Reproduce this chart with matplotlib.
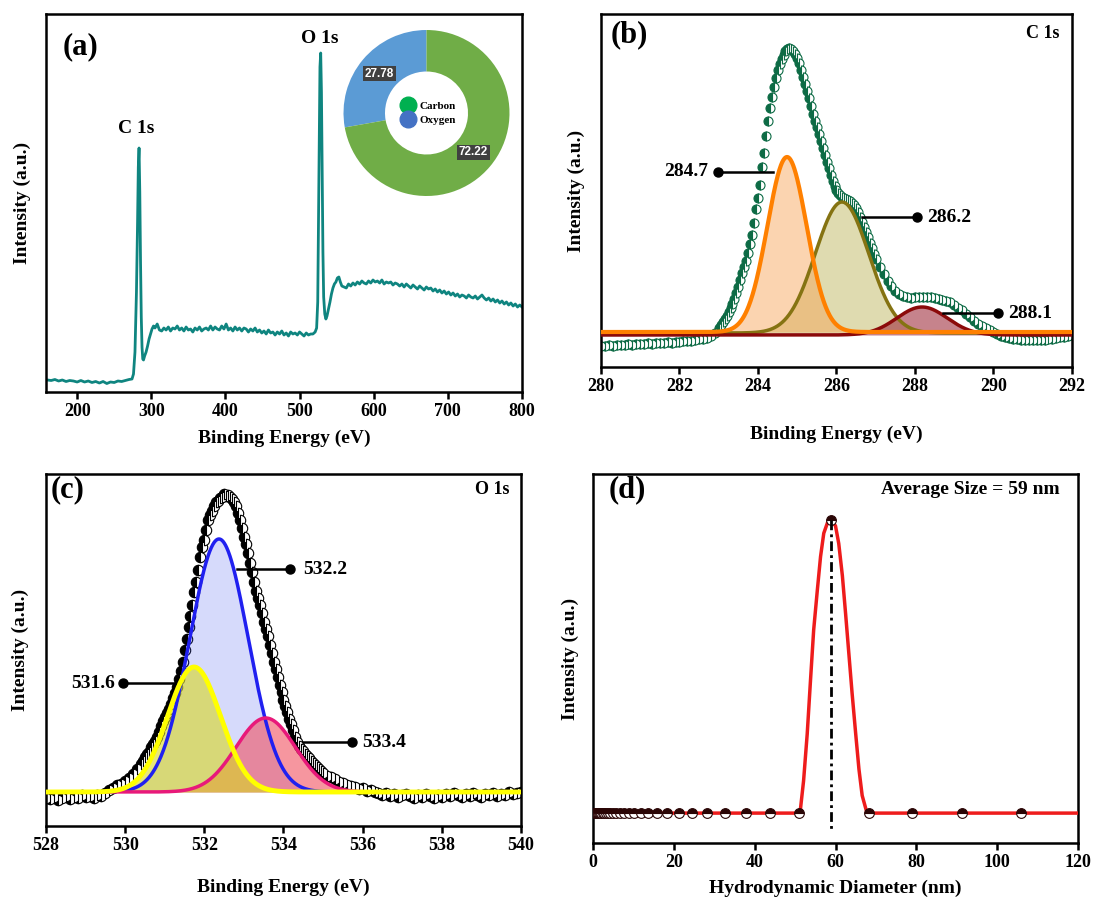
import numpy as np
import matplotlib
matplotlib.use("Agg")
import matplotlib.pyplot as plt
from matplotlib.lines import Line2D

plt.rcParams['font.family'] = ['Liberation Serif', 'DejaVu Serif']
plt.rcParams['font.weight'] = 'bold'
plt.rcParams['axes.labelweight'] = 'bold'

# ---------------- (a) XPS survey ----------------
survey_x = [160, 165, 170, 175, 180, 185, 190, 195, 200, 205, 210, 215, 220, 225, 230, 235, 240, 245,
            250, 255, 260, 265, 270, 274, 276, 278, 280, 281.5, 282.5, 283.5, 284.5, 285.5, 286.5,
            287.5, 288.5, 289.5, 291, 293, 295, 297, 299, 301, 303, 305, 308, 311, 314, 317, 320,
            323, 326, 329, 332, 335, 338, 341, 344, 347, 350, 353, 356, 359, 362, 365, 368, 371,
            374, 377, 380, 383, 386, 389, 392, 395, 398, 401, 404, 407, 410, 413, 416, 419, 422,
            425, 428, 431, 434, 437, 440, 443, 446, 449, 452, 455, 458, 461, 464, 467, 470, 473,
            476, 479, 482, 485, 488, 491, 494, 497, 500, 503, 506, 509, 512, 515, 518, 521, 523,
            524.5, 525.5, 526.5, 527.5, 528.5, 529.5, 530.5, 531.5, 532.5, 534, 535.5, 537, 539,
            541, 543, 545, 547, 549, 551, 553, 555, 557, 560, 563, 566, 569, 572, 575, 578, 581,
            584, 587, 590, 593, 596, 599, 602, 605, 608, 611, 614, 617, 620, 623, 626, 629, 632,
            635, 638, 641, 644, 647, 650, 653, 656, 659, 662, 665, 668, 671, 674, 677, 680, 683,
            686, 689, 692, 695, 698, 701, 704, 707, 710, 713, 716, 719, 722, 725, 728, 731, 734,
            737, 740, 743, 746, 749, 752, 755, 758, 761, 764, 767, 770, 773, 776, 779, 782, 785,
            788, 791, 794, 797, 800]
survey_y = [12, 11.5, 12.5, 11, 12, 10.5, 11.5, 11, 10, 11.5, 10, 11, 9.5, 10.5, 9, 10.5, 8.5, 10,
            9.5, 11, 10.5, 11.5, 12.5, 13, 18, 40, 100, 170, 225, 244, 200, 130, 75,
            45, 33, 32, 36, 40, 46, 53, 58, 63, 66, 64, 68, 62, 61, 64, 62,
            65, 61, 64, 63, 66, 62, 64, 61, 65, 62, 63, 60, 64, 62, 65, 61, 63,
            64, 62, 66, 62, 65, 63, 62, 66, 63, 68, 62, 64, 61, 65, 62, 64, 61,
            64, 63, 60, 63, 61, 64, 60, 62, 59, 61, 58, 62, 59, 60, 57, 60, 58,
            61, 57, 59, 56, 60, 58, 59, 57, 60, 58, 56, 59, 57, 58, 58, 60, 64,
            90, 170, 260, 325, 339, 300, 220, 140, 95, 78, 73, 76, 83,
            90, 98, 104, 108, 110, 114, 115, 110, 106, 105, 104, 108, 106, 109, 107, 110, 108,
            111, 109, 108, 111, 109, 112, 110, 111, 109, 112, 108, 110, 109, 110, 107, 109, 108,
            106, 108, 105, 108, 106, 104, 107, 105, 103, 106, 104, 102, 105, 103, 104, 101, 103,
            100, 102, 99, 101, 98, 100, 97, 99, 96, 98, 95, 97, 96, 94, 97, 95, 94,
            96, 93, 95, 97, 94, 92, 94, 91, 93, 90, 92, 89, 91, 88, 90, 87, 89,
            86, 88, 85, 87, 85]
pie_labels = ['Oxygen', 'Carbon']
pie_values = [27.78, 72.22]

# ---------------- (b) C 1s ----------------
c1s_x = [280.0, 280.1, 280.2, 280.3, 280.4, 280.5, 280.6, 280.7, 280.8, 280.9, 281.0, 281.1, 281.2,
         281.3, 281.4, 281.5, 281.6, 281.7, 281.8, 281.9, 282.0, 282.1, 282.2, 282.3, 282.4, 282.5,
         282.6, 282.7, 282.8, 282.9, 283.0, 283.05, 283.1, 283.15, 283.2, 283.25, 283.3, 283.35,
         283.4, 283.45, 283.5, 283.55, 283.6, 283.65, 283.7, 283.75, 283.8, 283.85, 283.9, 283.95,
         284.0, 284.05, 284.1, 284.15, 284.2, 284.25, 284.3, 284.35, 284.4, 284.45, 284.5, 284.55,
         284.6, 284.65, 284.7, 284.75, 284.8, 284.85, 284.9, 284.95, 285.0, 285.05, 285.1, 285.15,
         285.2, 285.25, 285.3, 285.35, 285.4, 285.45, 285.5, 285.55, 285.6, 285.65, 285.7, 285.75,
         285.8, 285.85, 285.9, 285.95, 286.0, 286.05, 286.1, 286.15, 286.2, 286.25, 286.3, 286.35,
         286.4, 286.45, 286.5, 286.55, 286.6, 286.65, 286.7, 286.75, 286.8, 286.85, 286.9, 286.95,
         287.0, 287.1, 287.2, 287.3, 287.4, 287.5, 287.6, 287.7, 287.8, 287.9, 288.0, 288.1, 288.2,
         288.3, 288.4, 288.5, 288.6, 288.7, 288.8, 288.9, 289.0, 289.1, 289.2, 289.3, 289.4, 289.5,
         289.6, 289.7, 289.8, 289.9, 290.0, 290.1, 290.2, 290.3, 290.4, 290.5, 290.6, 290.7, 290.8,
         290.9, 291.0, 291.1, 291.2, 291.3, 291.4, 291.5, 291.6, 291.7, 291.8, 291.9, 292.0]
c1s_y = [-13, -13, -12.5, -13, -12, -12, -12.5, -11.5, -12, -11, -11, -11.5, -10.5,
         -11, -10, -10, -10.5, -9.5, -10, -9, -9, -8.5, -8.5, -8, -7, -6.5,
         -6, -5, -3, 0, 5, 8, 11, 14, 17, 21, 25, 29,
         34, 40, 46, 53, 60, 66, 72, 80, 89, 98, 110, 124,
         135, 148, 166, 180, 197, 212, 225, 236, 246, 255, 263, 269,
         274, 278, 282, 284, 285, 284, 282, 279, 275, 270, 263, 256,
         249, 242, 235, 227, 219, 212, 206, 199, 192, 185, 178, 171,
         165, 158, 152, 147, 143, 140, 138, 136, 135, 134, 133, 132,
         130, 128, 125, 121, 116, 111, 106, 101, 96, 90, 85, 79,
         74, 66, 59, 52, 47, 42, 39, 37, 36, 35, 35.5, 36, 36,
         35.5, 35.5, 35, 34, 33, 32, 30.5, 28, 25, 23, 19, 15.5, 12,
         9, 6.5, 4.5, 3, 1, -1, -3, -4, -5, -6, -6.5, -7, -7,
         -7.5, -7, -7.5, -7, -7, -6.5, -6, -5.5, -4.5, -4, -3, -2]
c1s_labels = ['284.7', '286.2', '288.1']
c1s_center = [284.74, 286.14, 288.18]
c1s_height = [175, 131, 28]
c1s_sigma = [0.50, 0.68, 0.64]
c1s_base = [1, 0, -2]

# ---------------- (c) O 1s ----------------
o1s_x = [528.0, 528.1, 528.2, 528.3, 528.4, 528.5, 528.6, 528.7, 528.8, 528.9, 529.0, 529.1, 529.2,
         529.3, 529.4, 529.5, 529.6, 529.7, 529.8, 529.9, 530.0, 530.1, 530.2, 530.3, 530.4, 530.45,
         530.5, 530.55, 530.6, 530.65, 530.7, 530.75, 530.8, 530.85, 530.9, 530.95, 531.0, 531.05,
         531.1, 531.15, 531.2, 531.25, 531.3, 531.35, 531.4, 531.45, 531.5, 531.55, 531.6, 531.65,
         531.7, 531.75, 531.8, 531.85, 531.9, 531.95, 532.0, 532.05, 532.1, 532.15, 532.2, 532.25,
         532.3, 532.35, 532.4, 532.45, 532.5, 532.55, 532.6, 532.65, 532.7, 532.75, 532.8, 532.85,
         532.9, 532.95, 533.0, 533.05, 533.1, 533.15, 533.2, 533.25, 533.3, 533.35, 533.4, 533.45,
         533.5, 533.55, 533.6, 533.65, 533.7, 533.75, 533.8, 533.85, 533.9, 533.95, 534.0, 534.05,
         534.1, 534.15, 534.2, 534.25, 534.3, 534.35, 534.4, 534.45, 534.5, 534.55, 534.6, 534.65,
         534.7, 534.75, 534.8, 534.85, 534.9, 534.95, 535.0, 535.1, 535.2, 535.3, 535.4, 535.5,
         535.6, 535.7, 535.8, 535.9, 536.0, 536.1, 536.2, 536.3, 536.4, 536.5, 536.6, 536.7, 536.8,
         536.9, 537.0, 537.1, 537.2, 537.3, 537.4, 537.5, 537.6, 537.7, 537.8, 537.9, 538.0, 538.1,
         538.2, 538.3, 538.4, 538.5, 538.6, 538.7, 538.8, 538.9, 539.0, 539.1, 539.2, 539.3, 539.4,
         539.5, 539.6, 539.7, 539.8, 539.9, 540.0]
o1s_y = [-6, -7, -5, -8, -6, -4, -7, -5, -6, -3, -5, -4, -6,
         -3, -4, -1, 2, 4, 7, 8, 11, 14, 18, 23, 28, 31,
         35, 38, 40, 45, 48, 51, 55, 60, 66, 71, 75, 79,
         83, 88, 94, 99, 105, 113, 121, 130, 142, 153, 165, 176,
         187, 200, 210, 222, 235, 245, 252, 262, 272, 277, 281, 286,
         290, 291, 294, 295, 298, 296, 297, 295, 293, 290, 286, 279,
         272, 264, 255, 248, 239, 229, 220, 210, 201, 194, 187, 179,
         170, 163, 156, 147, 139, 130, 123, 115, 107, 100, 92, 86,
         80, 73, 68, 62, 55, 50, 46, 43, 41, 38, 36, 34,
         31, 29, 27, 25, 23, 21, 19, 16, 15, 13, 10, 9,
         7, 6, 5, 3, 4, 1, 2, 0, -1, -3, -1, -4, -2,
         -5, -3, -2, -4, -6, -3, -5, -2, -4, -6, -3, -5, -2,
         -4, -1, -3, -5, -2, -4, -1, -3, -5, -2, -3, -1, -4,
         -2, -3, 0, -2, -1, 0]
o1s_labels = ['532.2', '533.4', '531.6']
o1s_center = [532.37, 533.55, 531.74]
o1s_height = [253, 74, 125]
o1s_sigma = [0.74, 0.75, 0.67]

# ---------------- (d) DLS ----------------
dls_x = [0.41, 0.47, 0.54, 0.63, 0.73, 0.85, 0.98, 1.13, 1.31, 1.52, 1.76, 2.04, 2.36, 2.73,
         3.16, 3.66, 4.24, 4.91, 5.68, 6.58, 7.62, 8.82, 10.2, 11.8, 13.7, 15.8, 18.3, 21.2,
         24.5, 28.3, 32.7, 37.9, 43.9, 50.9, 58.9, 68.2, 78.9, 91.4, 105.8]
dls_y = [0, 0, 0, 0, 0, 0, 0, 0, 0, 0, 0, 0, 0, 0,
         0, 0, 0, 0, 0, 0, 0, 0, 0, 0, 0, 0, 0, 0,
         0, 0, 0, 0, 0, 0, 100, 0, 0, 0, 0]
dls_curve_x = [0, 50.9, 51.3, 52.1, 53.0, 53.8, 54.6, 55.5, 56.3, 57.1, 58.1, 58.9, 60.0, 60.8,
               61.7, 62.5, 63.3, 64.1, 65.0, 65.8, 66.6, 67.7, 68.2, 120]
dls_curve_y = [0, 0, 1, 11, 27, 45, 62.5, 76, 87.5, 95.5, 99.4, 100, 98, 92,
               81, 68, 54.5, 41, 27, 15, 6, 0.5, 0, 0]
avg_size = 59

W, H = 1093, 905
fig = plt.figure(figsize=(W / 100, H / 100), dpi=100)


def px_axes(l, t, r, b):
    return fig.add_axes([l / W, 1 - b / H, (r - l) / W, (b - t) / H])


def style(ax, box, xlim, ylim, xticks, xlabel, xoff, yoff):
    l, t, r, b = box
    ax.set_xlim(*xlim)
    ax.set_ylim(*ylim)
    ax.set_xticks(xticks)
    ax.set_yticks([])
    for s in ax.spines.values():
        s.set_linewidth(1.8)
    ax.tick_params(axis='x', direction='out', length=5, width=1.8, labelsize=13, pad=3)
    ax.set_xlabel(xlabel, fontsize=14, va='center')
    ax.xaxis.set_label_coords(0.5, -xoff / (b - t))
    ax.set_ylabel('Intensity (a.u.)', fontsize=14, va='center')
    ax.yaxis.set_label_coords(-yoff / (r - l), 0.5)


def callout(ax, x_line, x_dot, y, text, tx, ha):
    ax.plot([x_line, x_dot], [y, y], color='black', lw=1.8, zorder=7)
    ax.plot([x_dot], [y], 'o', color='black', ms=6.5, zorder=7)
    ax.text(tx, y, text, fontsize=14, ha=ha, va='center', zorder=7)


# ---- (a)
box_a = (46, 14, 522, 392)
ax_a = px_axes(*box_a)
ax_a.plot(survey_x, survey_y, color='#0f8580', lw=2)
style(ax_a, box_a, (158, 800), (0, 378), range(200, 801, 100), 'Binding Energy (eV)', 46, 24)
ax_a.text(279, 264, 'C 1s', fontsize=14, ha='center', va='center')
ax_a.text(527, 354, 'O 1s', fontsize=14, ha='center', va='center')
ax_a.text(0.072, 0.914, '(a)', transform=ax_a.transAxes, fontsize=22, ha='center', va='center')

ax_pie = fig.add_axes([343 / W, 1 - 196 / H, 167 / W, 166 / H])
wedges, _ = ax_pie.pie(pie_values, colors=['#5b9bd5', '#70ad47'], startangle=90,
                       counterclock=True, radius=1.0, wedgeprops=dict(width=0.5, edgecolor='none'))
for w, v in zip(wedges, pie_values):
    ang = np.deg2rad((w.theta1 + w.theta2) / 2)
    ax_pie.text(0.74 * np.cos(ang), 0.74 * np.sin(ang), f'{v:.2f}', color='white',
                fontsize=8.5, fontweight='bold', family=['Liberation Sans', 'DejaVu Sans'],
                ha='center', va='center',
                bbox=dict(boxstyle='square,pad=0.15', fc='#404040', ec='none'))
handles = [Line2D([], [], marker='o', ls='none', ms=12, color='#00b050', label='Carbon'),
           Line2D([], [], marker='o', ls='none', ms=12, color='#4472c4', label='Oxygen')]
ax_pie.legend(handles=handles, loc='center', frameon=False, fontsize=8,
              handletextpad=0.1, labelspacing=0.4, borderpad=0)
ax_pie.set_xlim(-1.0, 1.0)
ax_pie.set_ylim(-1.0, 1.0)
ax_pie.set_aspect('equal')

# ---- (b)
box_b = (601, 14, 1072, 367)
ax_b = px_axes(*box_b)
ax_b.plot(c1s_x, c1s_y, ls='none', marker='o', ms=6.5, fillstyle='left',
          markerfacecolor='#0d6b45', markerfacecoloralt='white', markeredgecolor='#0d6b45',
          markeredgewidth=0.8, zorder=2)
grid_b = np.linspace(280, 292, 1200)
b_line = ['#ff8000', '#857312', '#8b0a0a']
b_fill = ['#f7a050', '#b8b050', '#a03040']
b_alpha = [0.45, 0.45, 0.6]
for i in [1, 2, 0]:
    g = c1s_base[i] + c1s_height[i] * np.exp(-0.5 * ((grid_b - c1s_center[i]) / c1s_sigma[i]) ** 2)
    ax_b.fill_between(grid_b, c1s_base[i], g, color=b_fill[i], alpha=b_alpha[i], lw=0, zorder=3)
    ax_b.plot(grid_b, g, color=b_line[i], lw=3 if i == 0 else 2.5, zorder=4)
style(ax_b, box_b, (280, 292), (-34, 319), range(280, 293, 2), 'Binding Energy (eV)', 67, 25)
callout(ax_b, 284.38, 282.98, 161, c1s_labels[0], 282.73, 'right')
callout(ax_b, 286.65, 288.05, 116, c1s_labels[1], 288.3, 'left')
callout(ax_b, 288.71, 290.11, 20, c1s_labels[2], 290.37, 'left')
ax_b.text(0.938, 0.946, 'C 1s', transform=ax_b.transAxes, fontsize=13, ha='center', va='center')
ax_b.text(0.06, 0.94, '(b)', transform=ax_b.transAxes, fontsize=22, ha='center', va='center')

# ---- (c)
box_c = (46, 474, 521, 826)
ax_c = px_axes(*box_c)
ax_c.plot(o1s_x, o1s_y, ls='none', marker='o', ms=7.5, fillstyle='left',
          markerfacecolor='black', markerfacecoloralt='white', markeredgecolor='black',
          markeredgewidth=0.8, zorder=2)
grid_c = np.linspace(528, 540, 1200)
c_line = ['#2020f0', '#e8197a', '#ffff00']
c_fill = ['#3346ee', '#f05060', '#d8d820']
c_alpha = [0.2, 0.6, 0.6]
for i in range(3):
    g = o1s_height[i] * np.exp(-0.5 * ((grid_c - o1s_center[i]) / o1s_sigma[i]) ** 2)
    ax_c.fill_between(grid_c, 0, g, color=c_fill[i], alpha=c_alpha[i], lw=0, zorder=3)
    ax_c.plot(grid_c, g, color=c_line[i], lw=2.5 if i < 2 else 3.5, zorder=4)
style(ax_c, box_c, (528, 540), (-34, 318), range(528, 541, 2), 'Binding Energy (eV)', 61, 26)
callout(ax_c, 532.83, 534.17, 223, o1s_labels[0], 534.5, 'left')
callout(ax_c, 534.49, 535.73, 50, o1s_labels[1], 536.0, 'left')
callout(ax_c, 531.26, 529.95, 109, o1s_labels[2], 529.74, 'right')
ax_c.text(0.939, 0.955, 'O 1s', transform=ax_c.transAxes, fontsize=13, ha='center', va='center')
ax_c.text(0.046, 0.955, '(c)', transform=ax_c.transAxes, fontsize=22, ha='center', va='center')

# ---- (d)
box_d = (593, 474, 1078, 843)
ax_d = px_axes(*box_d)
ax_d.plot(dls_curve_x, dls_curve_y, color='#ee1c1c', lw=2.5, zorder=3)
ax_d.plot(dls_x, dls_y, ls='none', marker='o', ms=7, fillstyle='top',
          markerfacecolor='#2a0505', markerfacecoloralt='white', markeredgecolor='#2a0505',
          markeredgewidth=0.8, zorder=4)
ax_d.plot([avg_size, avg_size], [100, -6.5], color='black', lw=2, dashes=(3.5, 1.5, 1, 1.5), zorder=5)
style(ax_d, box_d, (0, 120), (-10.2, 115.7), range(0, 121, 20), 'Hydrodynamic Diameter (nm)', 45, 23)
ax_d.text(0.777, 0.959, f'Average Size = {avg_size} nm', transform=ax_d.transAxes, fontsize=14,
          ha='center', va='center')
ax_d.text(0.07, 0.957, '(d)', transform=ax_d.transAxes, fontsize=22, ha='center', va='center')

fig.savefig('out.png', dpi=100)
